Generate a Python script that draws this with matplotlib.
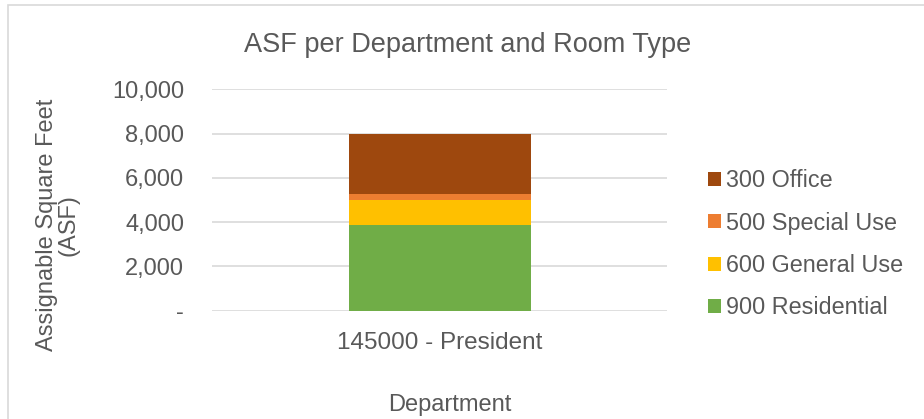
import matplotlib
matplotlib.use('Agg')
import matplotlib.pyplot as plt
from matplotlib.patches import Rectangle, Patch
from matplotlib.ticker import FuncFormatter
import numpy as np

# chart data (stack order bottom to top)
departments = ['145000 - President']
room_types = ['900 Residential', '600 General Use', '500 Special Use', '300 Office']
asf_values = [3880, 1130, 270, 2720]
colors = ['#70ad47', '#ffc000', '#ed7d31', '#9e480e']

text_color = '#595959'
plt.rcParams['font.family'] = ['Liberation Sans', 'DejaVu Sans']

fig = plt.figure(figsize=(9.24, 4.19), dpi=100)
ax = fig.add_axes([212 / 924, 1 - 310.7 / 419, (667 - 212) / 924, (310.7 - 89.3) / 419])

# stacked bar
x = np.arange(len(departments))
bottom = np.zeros(len(departments))
for name, val, col in zip(room_types, asf_values, colors):
    ax.bar(x, [val], width=0.4, bottom=bottom, color=col, label=name, zorder=3)
    bottom += val

ax.set_xlim(-0.5, 0.5)
ax.set_ylim(0, 10000)
ax.set_yticks(np.arange(0, 10001, 2000))
ax.yaxis.set_major_formatter(FuncFormatter(lambda v, p: '-' if v == 0 else f'{v:,.0f}'))
ax.set_xticks(x)
ax.set_xticklabels(departments)

# grid and spines
ax.grid(axis='y', color='#d9d9d9', linewidth=1.2, zorder=0)
for s in ax.spines.values():
    s.set_visible(False)
ax.tick_params(axis='both', length=0, colors=text_color, labelsize=17)
ax.tick_params(axis='x', labelsize=17.5)
ax.tick_params(axis='y', pad=20)
ax.tick_params(axis='x', pad=15)

# labels
fig.text(468 / 924, 1 - 45 / 419, 'ASF per Department and Room Type', ha='center', va='center',
         fontsize=19.5, color=text_color)
fig.text(450 / 924, 1 - 405 / 419, 'Department', ha='center', va='center',
         fontsize=17, color=text_color)
fig.text(58 / 924, 1 - 225 / 419, 'Assignable Square Feet\n(ASF)', ha='center', va='center',
         rotation=90, fontsize=17, color=text_color, linespacing=0.95)

# legend, top entry is top of stack
handles = [Patch(facecolor=c) for c in colors][::-1]
fig.legend(handles, room_types[::-1], loc='upper left', bbox_to_anchor=(699 / 924, 1 - 160 / 419),
           frameon=False, fontsize=16.8, handlelength=0.55, handleheight=0.55, handletextpad=0.2,
           labelspacing=0.83, labelcolor=text_color, borderaxespad=0)

# chart frame border (cropped at right and bottom)
fig.patches.append(Rectangle((8 / 924, -0.1), 1.2, 1 - 5 / 419 + 0.1, transform=fig.transFigure,
                             fill=False, edgecolor='#d9d9d9', linewidth=1.2))

fig.savefig('out.png', dpi=100)
